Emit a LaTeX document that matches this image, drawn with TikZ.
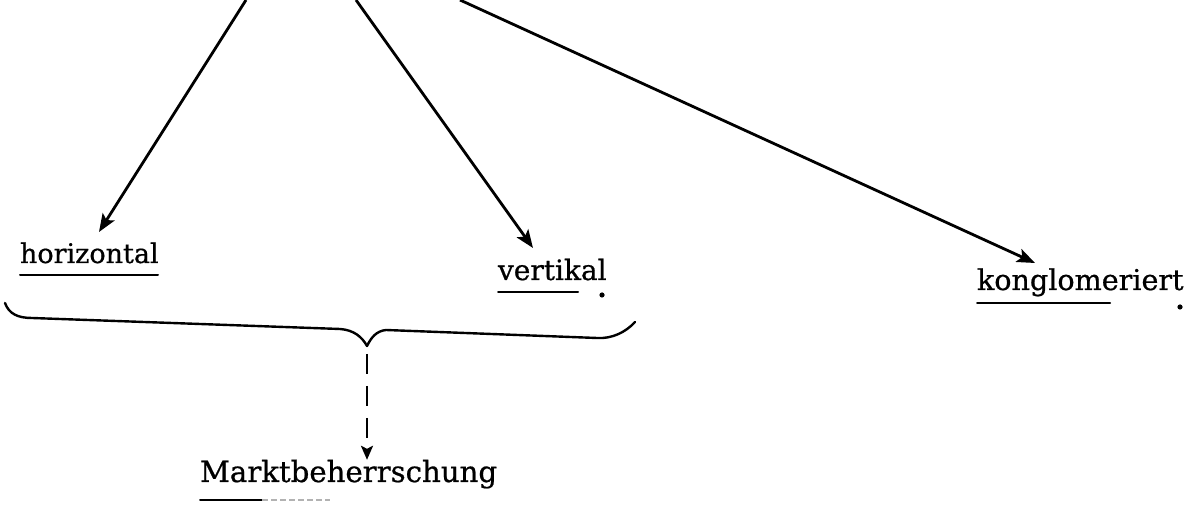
\documentclass[tikz,border=0pt]{standalone}
\usepackage{fontspec}
\setmainfont{DejaVu Serif}[FakeBold=0.7]
\usetikzlibrary{arrows.meta,calc}
\begin{document}
\begin{tikzpicture}[x=0.5pt,y=-0.5pt,
  lab/.style={inner sep=0pt, outer sep=0pt, anchor=base west},
  arr/.style={line width=1.4pt, -{Stealth[length=9pt,width=7pt,inset=2pt]}},
  dasharr/.style={line width=1.2pt, dash pattern=on 10pt off 6pt, -{Stealth[length=7pt,width=6pt,inset=1.5pt]}},
  ul/.style={line width=1pt, line cap=round},
  faint/.style={line width=0.6pt, gray!60, dash pattern=on 3pt off 1.5pt},
  brace/.style={line width=1.2pt, line join=round, line cap=round},
  speck/.style={fill=black}]
\fill[white] (0,0) rectangle (1199,506);
\useasboundingbox (0,0) rectangle (1199,506);

% labels
\node[lab, font=\fontsize{13.5pt}{16pt}\selectfont] (h) at (20,263) {horizontal};
\node[lab, font=\fontsize{14pt}{16pt}\selectfont] (v) at (498,280) {vertikal};
\node[lab, font=\fontsize{14.3pt}{16pt}\selectfont] (k) at (977,290) {konglomeriert};
\node[lab, font=\fontsize{14.6pt}{16pt}\selectfont] (m) at (200,482) {Marktbeherrschung};

% arrow sources at the top edge
\coordinate (t1) at (246,0);
\coordinate (t2) at (356,0);
\coordinate (t3) at (460,0);

\draw[arr] (t1) -- ($(h.base west)+(79,-31)$);
\draw[arr] (t2) -- ($(v.base west)+(35,-32)$);
\draw[arr] (t3) -- ($(k.base west)+(58,-27)$);

% underlines
\draw[ul] ($(h.base west)+(0,12)$) -- ($(h.base west)+(138,12)$);
\draw[ul] ($(v.base west)+(0,12)$) -- ($(v.base west)+(80,12)$);
\fill[speck] ($(v.base west)+(104,15)$) circle[radius=1.3pt];
\draw[ul] ($(k.base west)+(0,13)$) -- ($(k.base west)+(133,13)$);
\fill[speck] ($(k.base west)+(203,17)$) circle[radius=1.3pt];
\draw[ul] ($(m.base west)+(0,18)$) -- ($(m.base west)+(62,18)$);
\draw[faint] ($(m.base west)+(62,18)$) -- ($(m.base west)+(130,18)$);

% brace under horizontal and vertikal
\draw[brace] (5,303) .. controls (9,314) and (18,318) .. (32,318)
  -- (340,329) .. controls (354,330) and (362,337) .. (367,346) coordinate (bt)
  .. controls (371,338) and (376,331) .. (386,330)
  -- (597,338) .. controls (612,339) and (626,332) .. (635,322);

% dashed arrow to Marktbeherrschung
\draw[dasharr] ([yshift=-4pt]bt) -- (bt |- m.north);
\end{tikzpicture}
\end{document}
